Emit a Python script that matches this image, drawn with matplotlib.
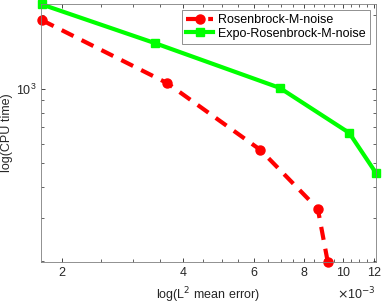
import matplotlib
matplotlib.use('Agg')
import matplotlib.pyplot as plt
from matplotlib.ticker import FixedLocator, FuncFormatter, NullFormatter

plt.rcParams['font.family'] = ['Liberation Sans', 'DejaVu Sans']
plt.rcParams['lines.scale_dashes'] = False

# values (log-log)
rosen_err = [1.78e-3, 3.65e-3, 6.24e-3, 8.67e-3, 9.18e-3]
rosen_cpu = [1900, 1057, 566, 327, 199]
expo_err = [1.78e-3, 3.40e-3, 6.97e-3, 10.38e-3, 12.1e-3]
expo_cpu = [2200, 1535, 1010, 664, 457]

x_major = [2e-3, 4e-3, 6e-3, 8e-3, 10e-3, 12e-3]
x_minor = [v * 1e-3 for v in [2.5, 3, 3.5, 4.5, 5, 5.5, 6.5, 7, 7.5, 8.5, 9, 9.5,
                              10.5, 11, 11.5]]

axis_gray = '#262626'

fig = plt.figure(figsize=(3.82, 3.05), dpi=100)
ax = fig.add_axes([0.107, 0.141, 0.877, 0.846])

ax.plot(rosen_err, rosen_cpu, color='red', linestyle='--', dashes=(9.5, 6.5),
        linewidth=3, marker='o', markersize=6.5, label='Rosenbrock-M-noise', clip_on=False)
ax.plot(expo_err, expo_cpu, color='#00ff00', linestyle='-', linewidth=3,
        marker='s', markersize=5.5, label='Expo-Rosenbrock-M-noise', clip_on=False)

ax.set_xscale('log')
ax.set_yscale('log')
ax.set_xlim(1.77e-3, 12.1e-3)
ax.set_ylim(199, 2210)

ax.xaxis.set_major_locator(FixedLocator(x_major))
ax.xaxis.set_major_formatter(FuncFormatter(lambda v, p: f'{v * 1000:.0f}'))
ax.xaxis.set_minor_locator(FixedLocator(x_minor))
ax.xaxis.set_minor_formatter(NullFormatter())
ax.yaxis.set_minor_formatter(NullFormatter())

ax.tick_params(which='both', direction='in', top=True, right=True,
               color=axis_gray, labelsize=9, labelcolor=axis_gray)
ax.tick_params(which='major', length=3, width=0.6)
ax.tick_params(which='minor', length=2, width=0.5)
for sp in ax.spines.values():
    sp.set_color('#7f7f7f')
    sp.set_linewidth(0.6)

ax.set_xlabel('log(L$^2$ mean error)', fontsize=9, color=axis_gray, labelpad=5)
ax.set_ylabel('log(CPU time)', fontsize=9, color=axis_gray, labelpad=2)
ax.text(1.0, -0.09, r'$\times$10$^{-3}$', transform=ax.transAxes, ha='right', va='top',
        fontsize=9, color=axis_gray)

leg = ax.legend(loc='upper right', fontsize=9, fancybox=False, handlelength=2.2,
                borderpad=0.3, labelspacing=0.15, handletextpad=0.4,
                borderaxespad=0.5, framealpha=1)
leg.get_frame().set_edgecolor('#7f7f7f')
leg.get_frame().set_linewidth(0.6)

fig.savefig('out.png', dpi=100)
